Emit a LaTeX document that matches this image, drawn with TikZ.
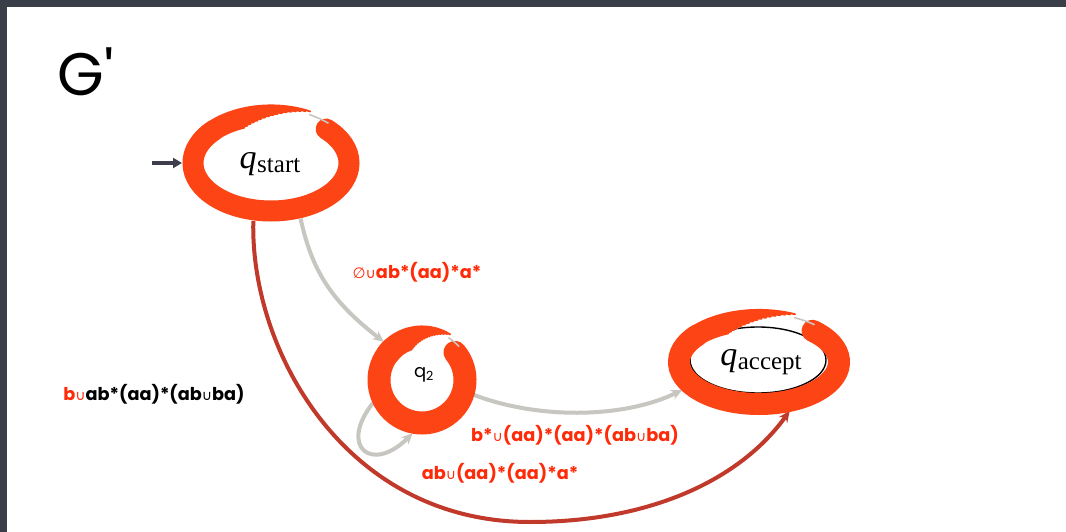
\documentclass[tikz,border=0pt]{standalone}
\usepackage{fontspec}
\newfontfamily\lblfont{Poppins}
\newfontfamily\symfont{DejaVu Sans}
\newfontfamily\subfont{Liberation Serif}
\usetikzlibrary{arrows.meta,shapes.geometric}

\definecolor{ringred}{RGB}{252,68,20}
\definecolor{lblred}{RGB}{255,42,8}
\definecolor{edgegrey}{RGB}{200,198,192}
\definecolor{edgered}{RGB}{192,57,43}
\definecolor{framegrey}{RGB}{58,62,72}
\definecolor{ink}{RGB}{60,63,75}

% Brush-stroke ring: centre x, centre y, x radius, y radius, stroke width, cap angle
\newcommand{\brushring}[6]{%
  \draw[ringred, line width=#5, line cap=round]
    (#1,#2) ++(#6:#3 and #4)
    arc[start angle=#6, end angle={#6+268}, x radius=#3, y radius=#4];
  % tapering bristles at the tail of the stroke
  \foreach \i in {0,...,16}{
    \pgfmathsetmacro{\off}{(-0.46+\i*0.0575)*#5}
    \pgfmathsetmacro{\fin}{#6+292+\i*3.1}
    \draw[ringred, line width={0.085*#5}, line cap=round]
      (#1,#2) ++({#6+255}:{#3+\off} and {#4+\off})
      arc[start angle={#6+255}, end angle=\fin,
          x radius={#3+\off}, y radius={#4+\off}];
  }
  \draw[edgegrey, line width=1.6]
    (#1,#2) ++({#6+342}:{#3+0.3*#5} and {#4+0.3*#5})
    arc[start angle={#6+342}, end angle={#6+358},
        x radius={#3+0.3*#5}, y radius={#4+0.3*#5}];
}

\tikzset{
  state/.style={ellipse, inner sep=0pt, outer sep=0pt},
  greyedge/.style={edgegrey, line width=4, -{Stealth[length=11pt,width=10pt]}},
  rededge/.style={edgered, line width=4, -{Stealth[length=11pt,width=10pt]}},
  lbl/.style={font=\lblfont\bfseries\fontsize{17.7}{21}\selectfont, inner sep=0pt},
  statename/.style={inner sep=0pt},
}
\newcommand{\un}{{\symfont\mdseries\fontsize{14}{14}\selectfont ∪}}
\newcommand{\qname}[1]{{\subfont\itshape\fontsize{34}{34}\selectfont q}\kern0.5pt{\subfont\fontsize{25}{25}\selectfont\raisebox{-4pt}{#1}}}

\begin{document}
\begin{tikzpicture}[x=1pt,y=-1pt]
  \useasboundingbox (0,0) rectangle (1066,532);
  \fill[white] (0,0) rectangle (1066,532);
  \fill[framegrey] (0,0) rectangle (1066,7);
  \fill[framegrey] (0,0) rectangle (7,532);

  % title
  \node[font=\lblfont\fontsize{60}{60}\selectfont] (title) at (86,72) {G\textquotesingle};

  % states (anchors sized to the outer edge of each ring)
  \node[state, minimum width=178, minimum height=118] (qs) at (271,163) {};
  \node[state, circle, minimum size=108] (q2) at (422,380) {};
  \node[state, minimum width=182, minimum height=104] (qa) at (759,362) {};

  % transitions
  \draw[greyedge] (qs.-62) .. controls (312,270) and (330,300) .. (q2.135);
  \draw[greyedge] (q2.205) .. controls (338,447) and (372,474) .. (q2.-100);
  \draw[greyedge] (q2.-16) .. controls (540,420) and (625,418) .. (qa.200);
  \draw[edgered, line width=4] (qs.-107) .. controls (250,350) and (345,522) .. (530,522)
    coordinate (lowpt);
  \draw[rededge] (lowpt) .. controls (650,522) and (740,480) .. (qa.-58);

  % start arrow
  \coordinate (startfree) at (152,163);
  \draw[ink, line width=4, -{Triangle[length=9pt,width=10pt]}] (startfree) -- (qs.west);

  % accept state inner outline
  \draw[black, line width=1.4] (758,360) ellipse[x radius=68, y radius=33];

  % brush rings
  \brushring{271}{163}{78}{48}{21}{-45}
  \brushring{422}{380}{43}{43}{23}{-40}
  \brushring{759}{362}{80}{42}{22}{-48}

  % state names
  \node[statename] (qsname) at (270,164) {\qname{start}};
  \node[font=\lblfont\fontsize{18}{20}\selectfont] (q2name) at (424,375) {q\textsubscript{2}};
  \node[statename] (qaname) at (761,362) {\qname{accept}};

  % transition labels
  \node[lbl, text=lblred] (l1) at (417,272)
    {{\symfont\mdseries\fontsize{15}{15}\selectfont ∅}\un ab*(aa)*a*};
  \node[lbl, text=black] (l2) at (154,394)
    {\textcolor{lblred}{b\un}ab*(aa)*(ab\un ba)};
  \node[lbl, text=lblred] (l3) at (575,435) {b*\un(aa)*(aa)*(ab\un ba)};
  \node[lbl, text=lblred] (l4) at (500,473) {ab\un(aa)*(aa)*a*};
\end{tikzpicture}
\end{document}
